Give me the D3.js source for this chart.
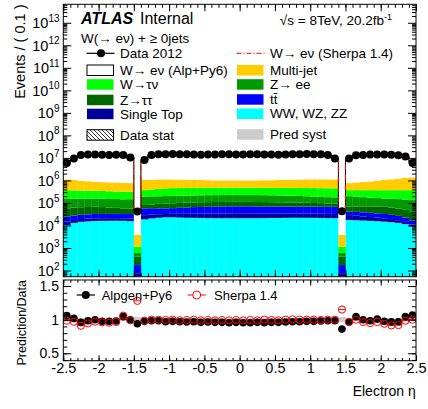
<!DOCTYPE html>
<html>
<head>
<meta charset="utf-8">
<script src="https://cdn.jsdelivr.net/npm/d3@7"></script>
<style>
body { margin: 0; background: #fff; }
svg { font-family: "Liberation Sans", Arial, sans-serif; }
</style>
</head>
<body>
<div id="chart"></div>
<script>
// electron eta, 50 bins of 0.1 from -2.5 to 2.5
const etaLow = -2.5, binWidth = 0.1, nBins = 50;

const dataCounts = [6.0e6, 9.5e6, 1.35e7, 1.42e7, 1.40e7, 1.38e7, 1.36e7, 1.37e7, 1.33e7, 1.05e7,
  4.2e4, 8.0e6, 1.35e7, 1.45e7, 1.47e7, 1.48e7, 1.46e7, 1.44e7, 1.42e7, 1.38e7,
  1.40e7, 1.43e7, 1.45e7, 1.44e7, 1.41e7, 1.40e7, 1.44e7, 1.45e7, 1.43e7, 1.41e7,
  1.39e7, 1.42e7, 1.44e7, 1.46e7, 1.48e7, 1.47e7, 1.45e7, 1.36e7, 9.5e6, 4.3e4,
  9.5e6, 1.30e7, 1.36e7, 1.40e7, 1.42e7, 1.42e7, 1.38e7, 1.30e7, 1.15e7, 6.0e6];

const wwYield = [1.05e4, 1.3e4, 1.45e4, 1.52e4, 1.58e4, 1.6e4, 1.62e4, 1.63e4, 1.62e4, 1.55e4,
  30, 1.86e4, 2.05e4, 2.2e4, 2.3e4, 2.3e4, 2.25e4, 2.2e4, 2.18e4, 2.15e4,
  2.12e4, 2.1e4, 2.1e4, 2.1e4, 2.1e4, 2.1e4, 2.1e4, 2.1e4, 2.12e4, 2.15e4,
  2.15e4, 2.18e4, 2.2e4, 2.2e4, 2.2e4, 2.18e4, 2.15e4, 2.12e4, 2.1e4, 30,
  1.74e4, 1.7e4, 1.65e4, 1.6e4, 1.55e4, 1.48e4, 1.4e4, 1.3e4, 1.15e4, 9.0e3];

const stYield = [4.3e3, 4.6e3, 4.8e3, 5.0e3, 5.1e3, 5.0e3, 4.9e3, 4.8e3, 4.7e3, 4.6e3,
  46, 1.0e4, 9.8e3, 9.6e3, 9.4e3, 9.8e3, 1.05e4, 1.1e4, 1.15e4, 1.2e4,
  1.25e4, 1.3e4, 1.33e4, 1.35e4, 1.37e4, 1.37e4, 1.35e4, 1.33e4, 1.3e4, 1.27e4,
  1.25e4, 1.22e4, 1.2e4, 1.18e4, 1.17e4, 1.16e4, 1.15e4, 1.14e4, 1.14e4, 46,
  1.14e4, 1.0e4, 8.8e3, 7.8e3, 6.8e3, 6.1e3, 5.2e3, 4.2e3, 3.0e3, 2.0e3];

const ttYield = [9.7e3, 1.0e4, 1.05e4, 1.1e4, 1.15e4, 1.15e4, 1.15e4, 1.15e4, 1.15e4, 1.2e4,
  98, 2.9e4, 2.8e4, 2.6e4, 2.5e4, 2.6e4, 2.8e4, 3.0e4, 3.2e4, 3.3e4,
  3.4e4, 3.5e4, 3.55e4, 3.6e4, 3.6e4, 3.6e4, 3.6e4, 3.55e4, 3.5e4, 3.5e4,
  3.5e4, 3.5e4, 3.5e4, 3.5e4, 3.5e4, 3.5e4, 3.5e4, 3.5e4, 3.5e4, 98,
  1.2e4, 1.3e4, 1.3e4, 1.25e4, 1.2e4, 1.15e4, 1.05e4, 9.5e3, 7.8e3, 5.9e3];

const zttYield = [3.3e4, 3.4e4, 3.45e4, 3.5e4, 3.5e4, 3.3e4, 3.0e4, 2.8e4, 2.5e4, 2.4e4,
  233, 2.4e4, 2.8e4, 3.3e4, 3.7e4, 3.8e4, 3.9e4, 4.0e4, 4.0e4, 4.1e4,
  4.1e4, 4.1e4, 4.1e4, 4.1e4, 4.1e4, 4.1e4, 4.1e4, 4.0e4, 4.0e4, 3.9e4,
  3.8e4, 3.7e4, 3.6e4, 3.5e4, 3.3e4, 3.1e4, 3.0e4, 2.8e4, 2.7e4, 233,
  2.7e4, 3.0e4, 3.2e4, 3.4e4, 3.5e4, 3.5e4, 3.3e4, 3.0e4, 2.7e4, 2.3e4];

const zeeYield = [1.0e5, 9.5e4, 9.2e4, 9.0e4, 9.0e4, 8.9e4, 8.8e4, 8.8e4, 8.7e4, 9.0e4,
  196, 1.1e5, 1.1e5, 1.08e5, 1.07e5, 1.08e5, 1.09e5, 1.1e5, 1.1e5, 1.11e5,
  1.12e5, 1.12e5, 1.12e5, 1.12e5, 1.12e5, 1.12e5, 1.12e5, 1.12e5, 1.11e5, 1.1e5,
  1.08e5, 1.06e5, 1.03e5, 1.0e5, 9.6e4, 9.2e4, 8.8e4, 8.5e4, 8.3e4, 196,
  1.32e5, 1.2e5, 1.1e5, 1.0e5, 9.5e4, 9.0e4, 9.0e4, 9.1e4, 9.2e4, 9.4e4];

const wtnYield = [2.1e5, 2.05e5, 2.0e5, 1.95e5, 1.9e5, 1.85e5, 1.8e5, 1.75e5, 1.7e5, 1.65e5,
  545, 1.8e5, 2.0e5, 2.2e5, 2.45e5, 2.5e5, 2.5e5, 2.52e5, 2.55e5, 2.55e5,
  2.56e5, 2.56e5, 2.56e5, 2.56e5, 2.56e5, 2.56e5, 2.56e5, 2.56e5, 2.56e5, 2.55e5,
  2.55e5, 2.55e5, 2.57e5, 2.6e5, 2.62e5, 2.65e5, 2.67e5, 2.7e5, 2.7e5, 545,
  1.7e5, 1.8e5, 1.9e5, 2.0e5, 2.05e5, 2.1e5, 2.15e5, 2.2e5, 2.28e5, 2.35e5];

const mjYield = [7.5e5, 6.8e5, 6.2e5, 5.7e5, 5.2e5, 5.0e5, 4.9e5, 4.8e5, 4.7e5, 4.5e5,
  2650, 6.8e5, 6.9e5, 6.9e5, 6.7e5, 6.5e5, 6.3e5, 6.1e5, 5.9e5, 5.7e5,
  5.5e5, 5.3e5, 5.2e5, 5.2e5, 5.2e5, 5.2e5, 5.2e5, 5.3e5, 5.4e5, 5.5e5,
  5.7e5, 5.9e5, 6.1e5, 6.3e5, 6.5e5, 6.6e5, 6.7e5, 6.7e5, 6.7e5, 2650,
  3.9e5, 4.3e5, 4.8e5, 5.3e5, 5.9e5, 6.8e5, 7.5e5, 8.3e5, 9.2e5, 1.0e6];

// prediction / data
const ratioAlpgen = [1.06, 1.02, 0.96, 0.985, 1.0, 0.975, 0.975, 0.98, 1.045, 1.0,
  0.94, 0.975, 0.985, 0.985, 0.97, 0.975, 0.97, 0.965, 0.97, 0.96,
  0.965, 0.96, 0.96, 0.955, 0.96, 0.955, 0.955, 0.96, 0.955, 0.96,
  0.96, 0.965, 0.97, 0.97, 0.975, 0.975, 0.98, 0.985, 0.985, 0.86,
  0.965, 1.045, 1.0, 0.985, 1.01, 0.975, 0.97, 0.97, 1.045, 1.07];

const ratioSherpa = [0.985, 0.97, 0.91, 0.945, 0.97, 0.96, 0.955, 0.965, 1.06, 0.99,
  1.28, 0.985, 1.0, 1.0, 0.995, 1.0, 0.99, 0.995, 1.0, 0.99,
  0.995, 0.99, 0.995, 0.99, 0.995, 0.99, 0.995, 0.99, 1.0, 0.995,
  0.99, 1.0, 1.005, 1.0, 1.0, 1.0, 0.995, 1.0, 1.0, 1.15,
  0.965, 1.0, 0.965, 0.95, 0.965, 0.94, 0.915, 0.92, 0.985, 1.0];

const predSyst = [0.02, 0.02, 0.02, 0.02, 0.02, 0.02, 0.02, 0.02, 0.02, 0.02,
  0.04, 0.02, 0.02, 0.02, 0.02, 0.02, 0.02, 0.02, 0.02, 0.02,
  0.02, 0.02, 0.02, 0.02, 0.02, 0.02, 0.02, 0.02, 0.02, 0.02,
  0.02, 0.02, 0.02, 0.02, 0.02, 0.02, 0.02, 0.02, 0.02, 0.04,
  0.02, 0.02, 0.02, 0.02, 0.02, 0.02, 0.02, 0.02, 0.02, 0.02];

const stackKeys = ["ww", "st", "tt", "ztt", "zee", "wtn", "mj"];
const stackColors = {ww: "#00ffff", st: "#000099", tt: "#0000ff", ztt: "#006600",
  zee: "#009900", wtn: "#00ff00", mj: "#ffcc00"};

const bins = d3.range(nBins).map(i => ({
  i: i,
  lo: etaLow + i * binWidth,
  hi: etaLow + (i + 1) * binWidth,
  mid: etaLow + (i + 0.5) * binWidth,
  data: dataCounts[i],
  ww: wwYield[i], st: stYield[i], tt: ttYield[i], ztt: zttYield[i],
  zee: zeeYield[i], wtn: wtnYield[i], mj: mjYield[i],
  rA: ratioAlpgen[i], rS: ratioSherpa[i], syst: predSyst[i]
}));

// layout
const frameL = 63.3, frameR = 416;
const mainTop = 4.3, mainBot = 276.7;
const ratTop = 280, ratBot = 360.7;

const svg = d3.select("#chart").append("svg")
  .attr("width", 428).attr("height", 409);

const defs = svg.append("defs");
defs.append("clipPath").attr("id", "mainClip")
  .append("rect").attr("x", frameL).attr("y", mainTop)
  .attr("width", frameR - frameL).attr("height", mainBot - mainTop);
defs.append("clipPath").attr("id", "ratClip")
  .append("rect").attr("x", frameL).attr("y", ratTop)
  .attr("width", frameR - frameL).attr("height", ratBot - ratTop);
const hatch = defs.append("pattern").attr("id", "hatch")
  .attr("patternUnits", "userSpaceOnUse").attr("width", 4).attr("height", 4);
hatch.append("path").attr("d", "M-1,-1 L5,5 M-1,3 L1,5 M3,-1 L5,1")
  .attr("stroke", "#000").attr("stroke-width", 0.8);

const xScale = d3.scaleLinear().domain([-2.5, 2.5]).range([frameL, frameR]);
const yMain = d3.scaleLog().domain([Math.pow(10, 1.725), Math.pow(10, 13.82)])
  .range([mainBot, mainTop]).clamp(true);
const yRatio = d3.scaleLinear().domain([0.39, 1.59]).range([ratBot, ratTop]);

// ---------- main panel ----------
const mainG = svg.append("g").attr("clip-path", "url(#mainClip)");

const stacked = d3.stack().keys(stackKeys)(bins);
const yMin = yMain.domain()[0];

mainG.selectAll(".layer")
  .data(stacked)
  .join("g")
  .attr("fill", d => stackColors[d.key])
  .selectAll("rect")
  .data(d => d)
  .join("rect")
  .attr("x", d => xScale(d.data.lo))
  .attr("width", d => xScale(d.data.hi) - xScale(d.data.lo) + 0.3)
  .attr("y", d => yMain(Math.max(d[1], yMin)))
  .attr("height", d => yMain(Math.max(d[0], yMin)) - yMain(Math.max(d[1], yMin)));

const stepLine = d3.line().x(d => xScale(d[0])).y(d => yMain(d[1]));
function steps(valueOf) {
  const pts = [];
  bins.forEach(b => { pts.push([b.lo, valueOf(b)]); pts.push([b.hi, valueOf(b)]); });
  return pts;
}

// W -> e nu (Alpgen) on top of the stack: white fill, black outline
mainG.selectAll(".sig")
  .data(bins)
  .join("rect")
  .attr("fill", "#fff")
  .attr("x", d => xScale(d.lo))
  .attr("width", d => xScale(d.hi) - xScale(d.lo))
  .attr("y", d => yMain(d.data * d.rA))
  .attr("height", d => {
    const bkg = d.ww + d.st + d.tt + d.ztt + d.zee + d.wtn + d.mj;
    return Math.max(0, yMain(bkg) - yMain(d.data * d.rA));
  });

mainG.append("path")
  .attr("d", stepLine(steps(b => b.data * b.rA)))
  .attr("fill", "none").attr("stroke", "#000").attr("stroke-width", 1);

mainG.append("path")
  .attr("d", stepLine(steps(b => b.data * b.rS)))
  .attr("fill", "none").attr("stroke", "#ff0000").attr("stroke-width", 1)
  .attr("stroke-dasharray", "5,2,1,2");

// data points
mainG.selectAll(".dbar")
  .data(bins)
  .join("line")
  .attr("x1", d => xScale(d.lo)).attr("x2", d => xScale(d.hi))
  .attr("y1", d => yMain(d.data)).attr("y2", d => yMain(d.data))
  .attr("stroke", "#000");
mainG.selectAll(".dpt")
  .data(bins)
  .join("circle")
  .attr("cx", d => xScale(d.mid))
  .attr("cy", d => yMain(d.data))
  .attr("r", 4)
  .attr("fill", "#000");

// main axes
const decades = d3.range(2, 14).map(k => Math.pow(10, k));
const minors = [];
d3.range(1, 14).forEach(k => d3.range(2, 10).forEach(m => {
  const v = m * Math.pow(10, k);
  if (v > yMin && v < yMain.domain()[1]) minors.push(v);
}));
const xMajor = d3.range(-2.5, 2.51, 0.5).map(v => +v.toFixed(1));
const xMinor = d3.range(-2.5, 2.51, 0.1).map(v => +v.toFixed(1));

function tickAxis(axis, tx, ty) {
  svg.append("g").attr("transform", `translate(${tx},${ty})`).call(axis)
    .call(g => g.select(".domain").remove())
    .call(g => g.selectAll("line").attr("stroke", "#000"));
}

tickAxis(d3.axisLeft(yMain).tickValues(decades).tickSize(-8).tickFormat(""), frameL, 0);
tickAxis(d3.axisLeft(yMain).tickValues(minors).tickSize(-4).tickFormat(""), frameL, 0);
tickAxis(d3.axisRight(yMain).tickValues(decades).tickSize(-8).tickFormat(""), frameR, 0);
tickAxis(d3.axisRight(yMain).tickValues(minors).tickSize(-4).tickFormat(""), frameR, 0);
tickAxis(d3.axisBottom(xScale).tickValues(xMajor).tickSize(-7).tickFormat(""), 0, mainBot);
tickAxis(d3.axisBottom(xScale).tickValues(xMinor).tickSize(-3.5).tickFormat(""), 0, mainBot);
tickAxis(d3.axisTop(xScale).tickValues(xMajor).tickSize(-7).tickFormat(""), 0, mainTop);
tickAxis(d3.axisTop(xScale).tickValues(xMinor).tickSize(-3.5).tickFormat(""), 0, mainTop);

const yLab = svg.append("g");
decades.forEach(v => {
  const t = yLab.append("text")
    .attr("x", 59.5).attr("y", yMain(v) + 5.5)
    .attr("text-anchor", "end").attr("font-size", 14.5)
    .text("10");
  t.append("tspan").attr("dy", -6.5).attr("font-size", 10)
    .text(Math.round(Math.log10(v)));
});

svg.append("rect")
  .attr("x", frameL).attr("y", mainTop)
  .attr("width", frameR - frameL).attr("height", mainBot - mainTop)
  .attr("fill", "none").attr("stroke", "#000").attr("stroke-width", 1);

svg.append("text")
  .attr("transform", "translate(25,4.5) rotate(-90)")
  .attr("text-anchor", "end").attr("font-size", 14.5)
  .text("Events / ( 0.1 )");

// labels and legend
svg.append("text").attr("x", 81).attr("y", 23.5)
  .attr("font-size", 16).attr("font-weight", "bold").attr("font-style", "italic")
  .text("ATLAS");
svg.append("text").attr("x", 140).attr("y", 23.5)
  .attr("font-size", 16).text("Internal");
svg.append("text").attr("x", 81).attr("y", 42.5)
  .attr("font-size", 13.5).text("W(\u2192 e\u03bd) + \u2265 0jets");
const lumi = svg.append("text").attr("x", 392).attr("y", 25)
  .attr("text-anchor", "end").attr("font-size", 13.5)
  .text("\u221as = 8TeV, 20.2fb");
lumi.append("tspan").attr("dy", -5).attr("font-size", 9).text("-1");

const legLeft = [
  {label: "Data 2012", type: "data", y: 53.3},
  {label: "W\u2192 e\u03bd (Alp+Py6)", type: "box", fill: "#fff", stroke: "#000", y: 70},
  {label: "W\u2192\u03c4\u03bd", type: "box", fill: stackColors.wtn, y: 84.2},
  {label: "Z\u2192\u03c4\u03c4", type: "box", fill: stackColors.ztt, y: 99.7},
  {label: "Single Top", type: "box", fill: stackColors.st, y: 113.7},
  {label: "Data stat", type: "box", fill: "url(#hatch)", stroke: "#000", y: 134.7}
];
const legRight = [
  {label: "W\u2192 e\u03bd (Sherpa 1.4)", type: "sherpa", y: 53.3},
  {label: "Multi-jet", type: "box", fill: stackColors.mj, y: 70},
  {label: "Z\u2192 ee", type: "box", fill: stackColors.zee, y: 84.2},
  {label: "t\u0074\u0304", type: "box", fill: stackColors.tt, y: 99.2},
  {label: "WW, WZ, ZZ", type: "box", fill: stackColors.ww, y: 113.5},
  {label: "Pred syst", type: "box", fill: "#cccccc", y: 134.2}
];

function drawLegend(entries, bx, tx) {
  const g = svg.append("g");
  entries.forEach(e => {
    if (e.type === "box") {
      g.append("rect").attr("x", bx + 0.5).attr("y", e.y - 5)
        .attr("width", 26.5).attr("height", 10.5)
        .attr("fill", e.fill)
        .attr("stroke", e.stroke || "none").attr("stroke-width", 1);
    } else if (e.type === "data") {
      g.append("line").attr("x1", bx).attr("x2", bx + 28)
        .attr("y1", e.y).attr("y2", e.y).attr("stroke", "#000").attr("stroke-width", 1.2);
      g.append("circle").attr("cx", bx + 14.5).attr("cy", e.y).attr("r", 4).attr("fill", "#000");
    } else if (e.type === "sherpa") {
      g.append("line").attr("x1", bx).attr("x2", bx + 28)
        .attr("y1", e.y).attr("y2", e.y).attr("stroke", "#ff0000")
        .attr("stroke-dasharray", "5,2,1,2");
    }
    g.append("text").attr("x", tx).attr("y", e.y + 4.8)
      .attr("font-size", 13.5).text(e.label);
  });
}
drawLegend(legLeft, 86.5, 120);
drawLegend(legRight, 236.5, 270);

// ---------- ratio panel ----------
const ratG = svg.append("g").attr("clip-path", "url(#ratClip)");

ratG.selectAll(".syst")
  .data(bins)
  .join("rect")
  .attr("x", d => xScale(d.lo))
  .attr("width", d => xScale(d.hi) - xScale(d.lo) + 0.3)
  .attr("y", d => yRatio(1 + d.syst))
  .attr("height", d => yRatio(1 - d.syst) - yRatio(1 + d.syst))
  .attr("fill", "#cccccc");

ratG.selectAll(".sbar")
  .data(bins)
  .join("line")
  .attr("x1", d => xScale(d.lo)).attr("x2", d => xScale(d.hi))
  .attr("y1", d => yRatio(d.rS)).attr("y2", d => yRatio(d.rS))
  .attr("stroke", "#ff0000");
ratG.selectAll(".abar")
  .data(bins)
  .join("line")
  .attr("x1", d => xScale(d.lo)).attr("x2", d => xScale(d.hi))
  .attr("y1", d => yRatio(d.rA)).attr("y2", d => yRatio(d.rA))
  .attr("stroke", "#000");
ratG.selectAll(".apt")
  .data(bins)
  .join("circle")
  .attr("cx", d => xScale(d.mid)).attr("cy", d => yRatio(d.rA))
  .attr("r", 3.8).attr("fill", "#000");
ratG.selectAll(".spt")
  .data(bins)
  .join("circle")
  .attr("cx", d => xScale(d.mid)).attr("cy", d => yRatio(d.rS))
  .attr("r", 3.6).attr("fill", "none").attr("stroke", "#ff0000").attr("stroke-width", 1);

const rMajor = [0.5, 1, 1.5];
const rMinor = d3.range(0.4, 1.59, 0.1).map(v => +v.toFixed(1));

tickAxis(d3.axisLeft(yRatio).tickValues(rMajor).tickSize(-8).tickFormat(""), frameL, 0);
tickAxis(d3.axisLeft(yRatio).tickValues(rMinor).tickSize(-4).tickFormat(""), frameL, 0);
tickAxis(d3.axisRight(yRatio).tickValues(rMajor).tickSize(-8).tickFormat(""), frameR, 0);
tickAxis(d3.axisRight(yRatio).tickValues(rMinor).tickSize(-4).tickFormat(""), frameR, 0);
tickAxis(d3.axisBottom(xScale).tickValues(xMajor).tickSize(-5.5).tickFormat(""), 0, ratBot);
tickAxis(d3.axisBottom(xScale).tickValues(xMinor).tickSize(-2.8).tickFormat(""), 0, ratBot);
tickAxis(d3.axisTop(xScale).tickValues(xMajor).tickSize(-5.5).tickFormat(""), 0, ratTop);
tickAxis(d3.axisTop(xScale).tickValues(xMinor).tickSize(-2.8).tickFormat(""), 0, ratTop);

// tick labels
svg.append("g")
  .attr("transform", `translate(${frameL},0)`)
  .call(d3.axisLeft(yRatio).tickValues(rMajor).tickSize(0).tickPadding(4.3)
    .tickFormat(d => String(d)))
  .call(g => g.select(".domain").remove())
  .call(g => g.selectAll("text").attr("font-size", 14).attr("fill", "#000")
    .attr("font-family", "Liberation Sans, Arial, sans-serif"));

svg.append("g")
  .attr("transform", `translate(0,${ratBot})`)
  .call(d3.axisBottom(xScale).tickValues(xMajor).tickSize(0).tickPadding(2)
    .tickFormat(d => String(d)))
  .call(g => g.select(".domain").remove())
  .call(g => g.selectAll("text").attr("font-size", 14.5).attr("fill", "#000")
    .attr("font-family", "Liberation Sans, Arial, sans-serif"));

svg.append("rect")
  .attr("x", frameL).attr("y", ratTop)
  .attr("width", frameR - frameL).attr("height", ratBot - ratTop)
  .attr("fill", "none").attr("stroke", "#000").attr("stroke-width", 1);

// ratio legend
svg.append("line").attr("x1", 76.7).attr("x2", 95).attr("y1", 295).attr("y2", 295)
  .attr("stroke", "#000").attr("stroke-width", 1.2);
svg.append("circle").attr("cx", 85.8).attr("cy", 295).attr("r", 4).attr("fill", "#000");
svg.append("text").attr("x", 101.7).attr("y", 299.5).attr("font-size", 13).text("Alpgen+Py6");
svg.append("line").attr("x1", 187.7).attr("x2", 205.7).attr("y1", 295).attr("y2", 295)
  .attr("stroke", "#ff0000");
svg.append("circle").attr("cx", 196.7).attr("cy", 295).attr("r", 4)
  .attr("fill", "#fff").attr("stroke", "#ff0000");
svg.append("text").attr("x", 214).attr("y", 299.5).attr("font-size", 13).text("Sherpa 1.4");

svg.append("text")
  .attr("transform", `translate(26,${ratTop}) rotate(-90)`)
  .attr("text-anchor", "end").attr("font-size", 12.5)
  .text("Prediction/Data");

svg.append("text").attr("x", 415.7).attr("y", 396)
  .attr("text-anchor", "end").attr("font-size", 14)
  .text("Electron \u03b7");
</script>
</body>
</html>
